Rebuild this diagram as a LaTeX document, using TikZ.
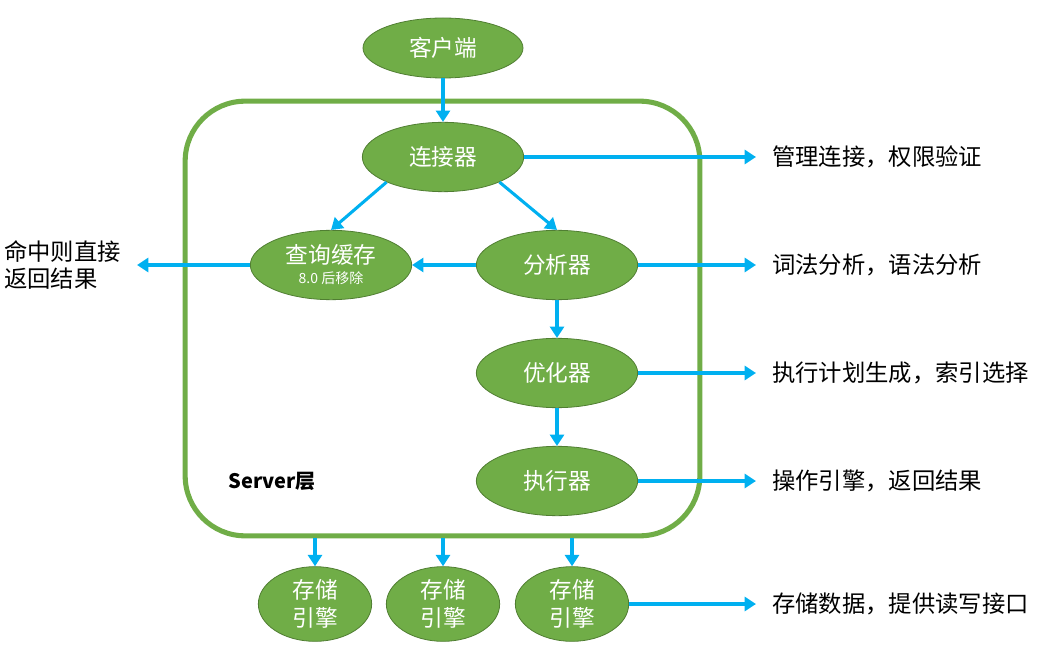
\documentclass[tikz,border=0pt]{standalone}
\usepackage{fontspec}
\setmainfont{Noto Sans CJK SC}
\usetikzlibrary{shapes,arrows.meta,positioning}
\definecolor{modgreen}{HTML}{70AD47}
\definecolor{modborder}{HTML}{507E32}
\definecolor{flowblue}{HTML}{00B0F0}
\tikzstyle{module} = [ellipse, minimum width=121pt, minimum height=52pt, inner sep=0pt, fill=modgreen, draw=modborder, line width=0.6pt, text=white, align=center, font=\fontsize{17}{19}\selectfont]
\tikzstyle{engine} = [module, minimum width=85pt, minimum height=56pt, font=\fontsize{17}{21.5}\selectfont]
\tikzstyle{layer} = [rectangle, rounded corners=45pt, draw=modgreen, line width=3.8pt, minimum width=386pt, minimum height=326pt]
\tikzstyle{note} = [anchor=west, inner sep=0pt, align=left, font=\fontsize{17.5}{20}\selectfont]
\tikzstyle{arrow} = [line width=2.3pt, draw=flowblue, -{Triangle[length=8.5pt,width=10.5pt]}]

\begin{document}
\begin{tikzpicture}[x=0.75pt, y=-0.75pt, node distance=81pt]
        \useasboundingbox (0,0) rectangle (1049,652);
        \node (server) [layer] at (442.5,318.5) {};
        \node (client) [module, minimum width=120pt, minimum height=45pt] at (443,48) {客户端};
        \node (conn) [module] at (443,157) {连接器};
        \node (cache) [module] at (331,265) {查询缓存\\[-4pt]{\fontsize{10.5}{11}\selectfont 8.0 后移除}};
        \node (parser) [module] at (557,265) {分析器};
        \node (optim) [module, below of = parser] {优化器};
        \node (exec) [module, below of = optim] {执行器};
        \node (eng1) [engine] at (315,604) {存储\\引擎};
        \node (eng2) [engine] at (443,604) {存储\\引擎};
        \node (eng3) [engine] at (572,604) {存储\\引擎};
        \node (tag) [font=\bfseries\fontsize{15}{17}\selectfont] at (272,481) {Server层};
        \node (hit) [note, anchor=east] at (121,265) {命中则直接\\返回结果};
        \node (n1) [note] at (772,157) {管理连接，权限验证};
        \node (n2) [note] at (772,265) {词法分析，语法分析};
        \node (n3) [note] at (772,373) {执行计划生成，索引选择};
        \node (n4) [note] at (772,481) {操作引擎，返回结果};
        \node (n5) [note] at (772,604) {存储数据，提供读写接口};
        \draw [arrow] (client) -- (conn);
        \draw [arrow] (conn.204) -- (cache.north);
        \draw [arrow] (conn.-24) -- (parser.north);
        \draw [arrow] (parser) -- (cache);
        \draw [arrow] (parser) -- (optim);
        \draw [arrow] (optim) -- (exec);
        \draw [arrow, shorten >=12pt] (cache) -- (hit.east);
        \draw [arrow, shorten >=12pt] (conn) -- (n1.west);
        \draw [arrow, shorten >=12pt] (parser) -- (n2.west);
        \draw [arrow, shorten >=12pt] (optim) -- (n3.west);
        \draw [arrow, shorten >=12pt] (exec) -- (n4.west);
        \draw [arrow, shorten >=12pt] (eng3) -- (n5.west);
        \draw [arrow] (server.south -| eng1) -- (eng1);
        \draw [arrow] (server.south -| eng2) -- (eng2);
        \draw [arrow] (server.south -| eng3) -- (eng3);
        \end{tikzpicture}
\end{document}
